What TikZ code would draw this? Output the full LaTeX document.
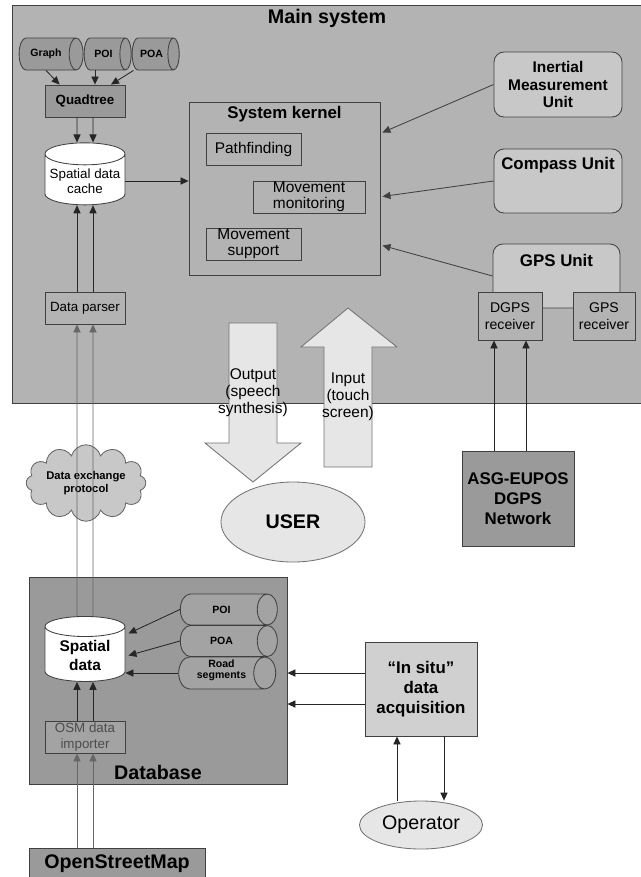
\documentclass[tikz,border=0pt]{standalone}
\usepackage{fontspec}
\setmainfont{Liberation Sans}
\usepackage{xcolor}
\usepackage{tikz}
\usetikzlibrary{arrows.meta,positioning,shapes.geometric,shapes.symbols,calc}

\definecolor{mainbg}{HTML}{B3B3B3}
\definecolor{darkbg}{HTML}{9A9A9A}
\definecolor{midbg}{HTML}{A3A3A3}
\definecolor{unitbg}{HTML}{C8C8C8}
\definecolor{situbg}{HTML}{D0D0D0}
\definecolor{palebg}{HTML}{E6E6E6}

\begin{document}
\begin{tikzpicture}[x=0.025cm, y=-0.025cm,
  box/.style={rectangle, draw=black!75, line width=0.6pt, align=center, inner sep=1pt},
  sub/.style={box, minimum height=0.8cm, inner sep=0pt, font=\fontsize{11}{11.5}\selectfont},
  unit/.style={box, rounded corners=0.25cm, fill=unitbg, font=\bfseries\fontsize{11.5}{13.5}\selectfont},
  store/.style={cylinder, draw=black!75, line width=0.6pt, fill=darkbg, align=center, inner sep=1pt,
    font=\bfseries\fontsize{7.5}{8.5}\selectfont},
  arr/.style={-{Triangle[length=2mm,width=1.8mm]}, line width=0.6pt, black!85},
  garr/.style={arr, black!60},
  fat/.style={draw=black!55, line width=0.6pt, fill=palebg},
  title/.style={anchor=north, font=\bfseries\fontsize{12}{14}\selectfont}
]
  \useasboundingbox (0,0) rectangle (640,877);

  % main system
  \node[box, fill=mainbg, minimum width=15.7cm, minimum height=9.95cm,
    label={[title, font=\bfseries\fontsize{14}{16}\selectfont]north:Main system}] (main) at (327,204) {};

  \node[store, minimum height=1.6cm, minimum width=0.8cm, aspect=1.1] (graph) at (46,54) {Graph};
  \node[store, minimum height=1.175cm, minimum width=0.8cm, aspect=1.1] (poi1) at (103.5,54) {POI};
  \node[store, minimum height=1.175cm, minimum width=0.8cm, aspect=1.1] (poa1) at (151.5,54) {POA};
  \node[box, fill=darkbg, minimum width=2cm, minimum height=0.8cm,
    font=\bfseries\fontsize{9.5}{11}\selectfont] (quad) at (85,101) {Quadtree};
  \node[store, shape border rotate=90, aspect=0.3, fill=white, minimum width=2cm, minimum height=1.55cm,
    font=\fontsize{9.5}{11}\selectfont] (cache) at (85,181) {Spatial data\\cache};
  \node[box, fill=mainbg, minimum width=2cm, minimum height=0.8cm,
    font=\fontsize{9.5}{11}\selectfont] (parser) at (85,308) {Data parser};

  \node[box, minimum width=4.775cm, minimum height=4.325cm,
    label={[title]north:System kernel}] (kernel) at (284.5,188.5) {};
  \node[sub, minimum width=2.375cm] (pathf) at (253.5,149) {Pathfinding};
  \node[sub, minimum width=2.8cm] (monit) at (309,197) {Movement\\monitoring};
  \node[sub, minimum width=2.375cm] (supp) at (253.5,244) {Movement\\support};

  \node[unit, minimum width=3.2cm, minimum height=1.625cm,
    font=\bfseries\fontsize{11}{12.5}\selectfont] (imu) at (558,84.5) {Inertial\\Measurement\\Unit};
  \node[unit, minimum width=3.2cm, minimum height=1.6cm,
    label={[title, yshift=-0.1cm]north:Compass Unit}] (comp) at (558,181) {};
  \node[unit, minimum width=3.175cm, minimum height=1.6cm,
    label={[title, yshift=-0.15cm]north:GPS Unit}] (gps) at (556.5,276) {};
  \node[box, fill=mainbg, minimum width=1.6cm, minimum height=1.2cm,
    font=\fontsize{10}{12}\selectfont] (dgps) at (510,316) {DGPS\\receiver};
  \node[box, fill=mainbg, minimum width=1.55cm, minimum height=1.2cm,
    font=\fontsize{10}{12}\selectfont] (gpsr) at (604,316) {GPS\\receiver};

  % user interface
  \filldraw[fat] (229,323) -- (277,323) -- (277,443) -- (301,443) -- (253,482) -- (205,443) -- (229,443) -- cycle;
  \filldraw[fat] (324,467) -- (372,467) -- (372,347) -- (397,347) -- (348,308) -- (301,347) -- (324,347) -- cycle;
  \node[align=center, font=\fontsize{11}{12}\selectfont] (outtxt) at (253,393) {Output\\(speech\\synthesis)};
  \node[align=center, font=\fontsize{11}{12}\selectfont] (intxt) at (348,397) {Input\\(touch\\screen)};
  \node[ellipse, fat, minimum width=3.6cm, minimum height=2cm,
    font=\bfseries\fontsize{14}{16}\selectfont] (user) at (293,522) {USER};

  \node[box, fill=darkbg, minimum width=2.8cm, minimum height=2.375cm,
    font=\bfseries\fontsize{12}{14}\selectfont] (asg) at (518,498.5) {ASG-EUPOS\\DGPS\\Network};

  \node[cloud, cloud puffs=12, aspect=2, draw=black!60, line width=0.6pt, fill=unitbg,
    minimum width=2.825cm, minimum height=1.575cm, inner sep=0pt, align=center,
    font=\bfseries\fontsize{8}{9.5}\selectfont] (dxp) at (86,483) {Data exchange\\protocol};

  % database
  \node[box, fill=darkbg, minimum width=6.45cm, minimum height=5.175cm,
    label={[anchor=south, font=\bfseries\fontsize{14}{16}\selectfont]south:Database}] (db) at (158,680.5) {};
  \node[store, fill=midbg, minimum height=2.425cm, minimum width=0.775cm, aspect=1.95] (dbpoi) at (221.5,609.5) {POI};
  \node[store, fill=midbg, minimum height=2.425cm, minimum width=0.775cm, aspect=1.95] (dbpoa) at (221.5,641) {POA};
  \node[store, fill=midbg, minimum height=2.425cm, minimum width=0.8cm, aspect=1.95, inner sep=0pt,
    text height=8pt, text depth=-3pt, font=\bfseries\fontsize{7.5}{8}\selectfont] (road) at (221.5,673) {Road\\segments};
  \node[store, shape border rotate=90, aspect=0.375, fill=white, minimum width=2cm, minimum height=1.625cm,
    font=\bfseries\fontsize{11}{13}\selectfont] (sdata) at (85,655.5) {Spatial\\data};
  \node[box, fill=midbg, text=black!70, minimum width=2cm, minimum height=0.8cm,
    font=\fontsize{9.5}{11}\selectfont] (imp) at (85,737) {OSM data\\importer};
  \node[box, fill=darkbg, minimum width=4.4cm, minimum height=0.8cm,
    font=\bfseries\fontsize{14}{16}\selectfont] (osm) at (117,864) {OpenStreetMap};

  \node[box, fill=situbg, minimum width=2.8cm, minimum height=2.35cm,
    font=\bfseries\fontsize{12}{14}\selectfont] (insitu) at (421,689) {“In situ”\\data\\acquisition};
  \node[ellipse, fat, minimum width=2.8cm, minimum height=1.2cm,
    font=\fontsize{14}{16}\selectfont] (op) at (421,825) {Operator};

  % connections
  \draw[arr] (graph.south) -- ($(quad.north west)+(15,0)$);
  \coordinate (q2) at ($(quad.north)+(10,0)$);
  \draw[arr] (poi1.south -| q2) -- (q2);
  \draw[arr] ($(poa1.south)+(-18,0)$) -- ($(quad.north)+(26,0)$);
  \foreach \dx in {-8,8} {
    \draw[arr] ($(quad.south)+(\dx,0)$) -- ($(cache.north)+(\dx,0)$);
    \draw[arr] ($(parser.north)+(\dx,0)$) -- ($(cache.south)+(\dx,0)$);
    \draw[garr] ($(sdata.north)+(\dx,0)$) -- ($(parser.south)+(\dx,0)$);
    \draw[arr] ($(imp.north)+(\dx,0)$) -- ($(sdata.south)+(\dx,0)$);
    \coordinate (i1) at ($(imp.south)+(\dx,0)$);
    \draw[garr] (i1 |- osm.north) -- (i1);
  }
  \draw[arr] (cache.east) -- (cache.east -| kernel.west);

  \draw[arr, black!75] (imu.west) -- ($(kernel.east)+(2,-56)$);
  \draw[arr, black!75] (comp.west) -- ($(kernel.east)+(2,8)$);
  \draw[arr, black!75] (gps.west) -- ($(kernel.east)+(2,57)$);

  \foreach \dx in {-16,16} {
    \coordinate (g1) at ($(dgps.south)+(\dx,0)$);
    \draw[arr] (g1 |- asg.north) -- (g1);
  }

  \draw[arr] (dbpoi.west) -- ($(sdata.east)+(3,-22)$);
  \draw[arr] (dbpoa.west) -- ($(sdata.east)+(3,0)$);
  \draw[arr] (road.west) -- (road.west -| sdata.east);

  \foreach \dy in {-16,15} {
    \coordinate (s1) at ($(insitu.west)+(0,\dy)$);
    \draw[arr] (s1) -- (s1 -| db.east);
  }
  \coordinate (o1) at ($(insitu.south)+(-24,0)$);
  \draw[arr] (o1 |- op.north) -- (o1);
  \coordinate (o2) at ($(insitu.south)+(23,0)$);
  \draw[arr] (o2) -- (o2 |- op.north);
\end{tikzpicture}
\end{document}
